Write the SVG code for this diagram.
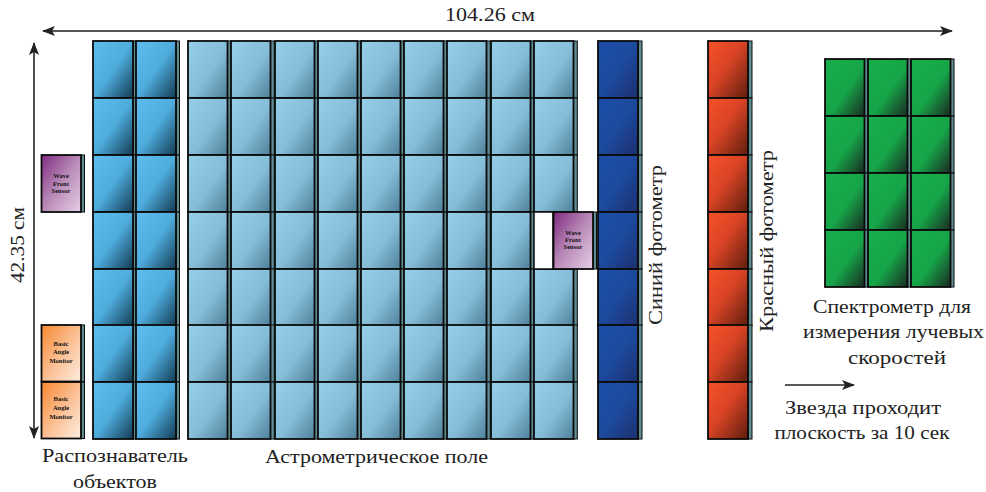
<svg xmlns="http://www.w3.org/2000/svg" width="986" height="492" viewBox="0 0 986 492">
<style>
text{font-family:"Liberation Serif","Times New Roman",serif;fill:#222;font-size:19.5px}
.m{text-anchor:middle}
.s{font-size:6.5px;font-weight:bold;fill:#111;text-anchor:middle}
.ln{stroke:#222;stroke-width:1.6;fill:none}
.h{stroke:#555;stroke-width:1.8;fill:none}
.b{stroke:#0a0a0a;stroke-width:1.8}
.st{fill:#5f8d92;stroke:#0a0a0a;stroke-width:1}
</style>
<defs>
<linearGradient id="gr" x1="0" y1="0" x2="1" y2="1"><stop offset="0" stop-color="#5fbdee"/><stop offset=".5" stop-color="#4fadde"/><stop offset="1" stop-color="#123a52"/></linearGradient>
<linearGradient id="ga" x1="0" y1="0" x2="1" y2="1"><stop offset="0" stop-color="#96cfea"/><stop offset=".55" stop-color="#85bcd8"/><stop offset="1" stop-color="#4f8099"/></linearGradient>
<linearGradient id="gb" x1="0" y1="0" x2="1" y2="1"><stop offset="0" stop-color="#1c4ea8"/><stop offset=".5" stop-color="#1c4a9e"/><stop offset="1" stop-color="#1d2f6e"/></linearGradient>
<linearGradient id="gd" x1="0" y1="0" x2="1" y2="1"><stop offset="0" stop-color="#f65128"/><stop offset=".45" stop-color="#d94425"/><stop offset="1" stop-color="#5e1d0e"/></linearGradient>
<linearGradient id="gg" x1="0" y1="0" x2="1" y2="1"><stop offset="0" stop-color="#18ae4c"/><stop offset=".55" stop-color="#16a548"/><stop offset="1" stop-color="#1a2a22"/></linearGradient>
<linearGradient id="gw" x1="0" y1="0" x2="1" y2="1"><stop offset="0" stop-color="#7f2a80"/><stop offset=".5" stop-color="#b98bb8"/><stop offset="1" stop-color="#e6cfe6"/></linearGradient>
<linearGradient id="go" x1="0" y1="0" x2="1" y2="1"><stop offset="0" stop-color="#f7882f"/><stop offset=".5" stop-color="#fbbd90"/><stop offset="1" stop-color="#fdeee2"/></linearGradient>
<marker id="ah" markerWidth="13" markerHeight="10" refX="12" refY="5" orient="auto-start-reverse" markerUnits="userSpaceOnUse" viewBox="0 0 13 10"><path d="M0 0L13 5L0 10L3 5Z" fill="#222"/></marker>
<g id="r"><rect x="40" width="3.500" height="57" class="st"/><rect width="40" height="57" fill="url(#gr)" class="b"/></g>
<g id="a"><rect x="39.500" width="3.800" height="57" class="st"/><rect width="39.500" height="57" fill="url(#ga)" class="b"/></g>
<g id="u"><rect x="40" width="4" height="57" class="st"/><rect width="40" height="57" fill="url(#gb)" class="b"/></g>
<g id="d"><rect x="40" width="4" height="57" class="st"/><rect width="40" height="57" fill="url(#gd)" class="b"/></g>
<g id="n"><rect x="39.500" width="3.500" height="57" class="st"/><rect width="39.500" height="57" fill="url(#gg)" class="b"/></g>
<g id="w"><rect x="39.500" width="3.500" height="57" class="st"/><rect width="39.500" height="57" fill="url(#gw)" class="b"/></g>
<g id="o"><rect x="39.500" width="3.500" height="56.500" class="st"/><rect width="39.500" height="56.500" fill="url(#go)" class="b"/></g>
</defs>
<rect width="986" height="492" fill="#fff"/>

<g id="recognizer">
<use href="#r" x="93" y="41"/><use href="#r" x="136" y="41"/>
<use href="#r" x="93" y="98"/><use href="#r" x="136" y="98"/>
<use href="#r" x="93" y="155"/><use href="#r" x="136" y="155"/>
<use href="#r" x="93" y="212"/><use href="#r" x="136" y="212"/>
<use href="#r" x="93" y="269"/><use href="#r" x="136" y="269"/>
<use href="#r" x="93" y="325"/><use href="#r" x="136" y="325"/>
<use href="#r" x="93" y="382"/><use href="#r" x="136" y="382"/>
</g>

<g id="astrometric">
<use href="#a" x="188" y="41"/><use href="#a" x="231" y="41"/><use href="#a" x="275" y="41"/><use href="#a" x="318" y="41"/><use href="#a" x="361" y="41"/><use href="#a" x="404" y="41"/><use href="#a" x="447" y="41"/><use href="#a" x="491" y="41"/><use href="#a" x="534" y="41"/>
<use href="#a" x="188" y="98"/><use href="#a" x="231" y="98"/><use href="#a" x="275" y="98"/><use href="#a" x="318" y="98"/><use href="#a" x="361" y="98"/><use href="#a" x="404" y="98"/><use href="#a" x="447" y="98"/><use href="#a" x="491" y="98"/><use href="#a" x="534" y="98"/>
<use href="#a" x="188" y="155"/><use href="#a" x="231" y="155"/><use href="#a" x="275" y="155"/><use href="#a" x="318" y="155"/><use href="#a" x="361" y="155"/><use href="#a" x="404" y="155"/><use href="#a" x="447" y="155"/><use href="#a" x="491" y="155"/><use href="#a" x="534" y="155"/>
<use href="#a" x="188" y="212"/><use href="#a" x="231" y="212"/><use href="#a" x="275" y="212"/><use href="#a" x="318" y="212"/><use href="#a" x="361" y="212"/><use href="#a" x="404" y="212"/><use href="#a" x="447" y="212"/><use href="#a" x="491" y="212"/>
<use href="#a" x="188" y="269"/><use href="#a" x="231" y="269"/><use href="#a" x="275" y="269"/><use href="#a" x="318" y="269"/><use href="#a" x="361" y="269"/><use href="#a" x="404" y="269"/><use href="#a" x="447" y="269"/><use href="#a" x="491" y="269"/><use href="#a" x="534" y="269"/>
<use href="#a" x="188" y="325"/><use href="#a" x="231" y="325"/><use href="#a" x="275" y="325"/><use href="#a" x="318" y="325"/><use href="#a" x="361" y="325"/><use href="#a" x="404" y="325"/><use href="#a" x="447" y="325"/><use href="#a" x="491" y="325"/><use href="#a" x="534" y="325"/>
<use href="#a" x="188" y="382"/><use href="#a" x="231" y="382"/><use href="#a" x="275" y="382"/><use href="#a" x="318" y="382"/><use href="#a" x="361" y="382"/><use href="#a" x="404" y="382"/><use href="#a" x="447" y="382"/><use href="#a" x="491" y="382"/><use href="#a" x="534" y="382"/>
</g>

<g id="blue-photometer">
<use href="#u" x="598" y="41"/><use href="#u" x="598" y="98"/><use href="#u" x="598" y="155"/><use href="#u" x="598" y="212"/><use href="#u" x="598" y="269"/><use href="#u" x="598" y="325"/><use href="#u" x="598" y="382"/>
</g>

<g id="red-photometer">
<use href="#d" x="708" y="41"/><use href="#d" x="708" y="98"/><use href="#d" x="708" y="155"/><use href="#d" x="708" y="212"/><use href="#d" x="708" y="269"/><use href="#d" x="708" y="325"/><use href="#d" x="708" y="382"/>
</g>

<g id="spectrometer">
<use href="#n" x="825" y="59"/><use href="#n" x="868" y="59"/><use href="#n" x="911" y="59"/>
<use href="#n" x="825" y="116"/><use href="#n" x="868" y="116"/><use href="#n" x="911" y="116"/>
<use href="#n" x="825" y="173"/><use href="#n" x="868" y="173"/><use href="#n" x="911" y="173"/>
<use href="#n" x="825" y="230"/><use href="#n" x="868" y="230"/><use href="#n" x="911" y="230"/>
</g>

<g id="wfs-left">
<use href="#w" x="41.500" y="155"/>
<text class="s" x="61" y="178">Wave</text><text class="s" x="61" y="186">Front</text><text class="s" x="61" y="193">Sensor</text>
</g>
<g id="wfs-right">
<rect x="534" y="212" width="19" height="57" fill="#fff" stroke="#0a0a0a" stroke-width="1.500"/>
<use href="#w" x="553.500" y="212"/>
<text class="s" x="573" y="235">Wave</text><text class="s" x="573" y="242">Front</text><text class="s" x="573" y="249">Sensor</text>
</g>
<g id="bam-1">
<use href="#o" x="41.500" y="325"/>
<text class="s" x="61" y="346">Basic</text><text class="s" x="61" y="354">Angle</text><text class="s" x="61" y="363">Monitor</text>
</g>
<g id="bam-2">
<use href="#o" x="41.500" y="382"/>
<text class="s" x="61" y="401">Basic</text><text class="s" x="61" y="410">Angle</text><text class="s" x="61" y="419">Monitor</text>
</g>

<g id="connectors">
<path class="h" d="M43 31H952" marker-start="url(#ah)" marker-end="url(#ah)"/>
<path class="ln" d="M34 43V438" marker-start="url(#ah)" marker-end="url(#ah)"/>
<path class="ln" d="M785 385H854" marker-end="url(#ah)"/>
</g>

<g id="labels">
<text class="m" x="490" y="21" textLength="90" lengthAdjust="spacingAndGlyphs">104.26 см</text>
<text class="m" transform="translate(24 245) rotate(-90)" textLength="76" lengthAdjust="spacingAndGlyphs">42.35 см</text>
<text class="m" x="115" y="462" textLength="146" lengthAdjust="spacingAndGlyphs">Распознаватель</text>
<text class="m" x="115" y="488" textLength="84" lengthAdjust="spacingAndGlyphs">объектов</text>
<text class="m" x="376.500" y="463" textLength="223" lengthAdjust="spacingAndGlyphs">Астрометрическое поле</text>
<text class="m" transform="translate(662 245) rotate(-90)" textLength="160" lengthAdjust="spacingAndGlyphs">Синий фотометр</text>
<text class="m" transform="translate(773 241) rotate(-90)" textLength="182" lengthAdjust="spacingAndGlyphs">Красный фотометр</text>
<text class="m" x="892" y="313" textLength="158" lengthAdjust="spacingAndGlyphs">Спектрометр для</text>
<text class="m" x="893.500" y="338" textLength="181" lengthAdjust="spacingAndGlyphs">измерения лучевых</text>
<text class="m" x="897" y="364" textLength="98" lengthAdjust="spacingAndGlyphs">скоростей</text>
<text class="m" x="863" y="414" textLength="156" lengthAdjust="spacingAndGlyphs">Звезда проходит</text>
<text class="m" x="862" y="439" textLength="175" lengthAdjust="spacingAndGlyphs">плоскость за 10 сек</text>
</g>
</svg>
